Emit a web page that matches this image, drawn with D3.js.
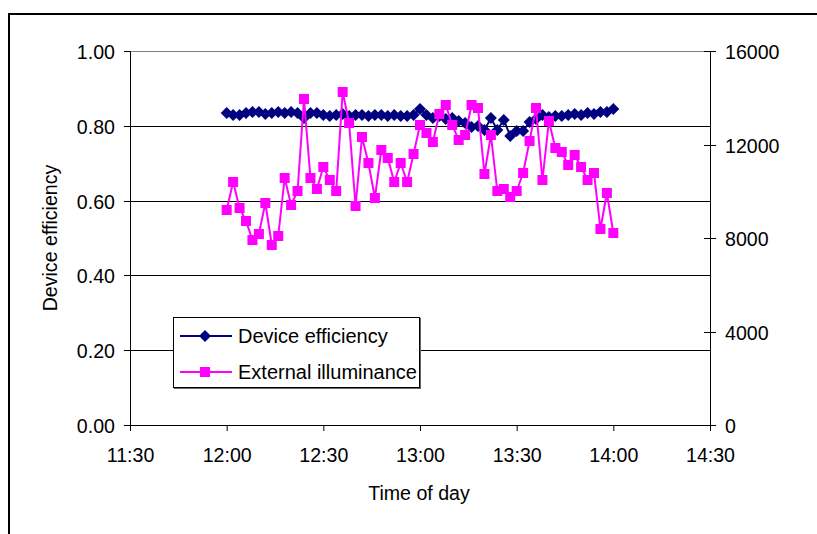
<!DOCTYPE html>
<html><head><meta charset="utf-8">
<script src="https://cdn.jsdelivr.net/npm/d3@7"></script>
<style>
html,body{margin:0;padding:0;background:#fff;}
svg text{font-family:"Liberation Sans",Arial,sans-serif;fill:#000;}
</style></head>
<body><svg id="c" width="817" height="534"></svg>
<script>
// minutes after 12:00, every 2 minutes
const minutes = d3.range(0, 121, 2);
const efficiency = [0.835,0.830,0.828,0.833,0.838,0.836,0.831,0.834,0.837,0.833,0.838,0.835,0.820,0.835,0.834,0.828,0.825,0.830,0.832,0.826,
  0.830,0.828,0.826,0.830,0.829,0.826,0.830,0.827,0.826,0.830,0.845,0.828,0.820,0.826,0.818,0.822,0.813,0.808,0.796,0.800,
  0.790,0.822,0.790,0.815,0.772,0.786,0.785,0.810,0.818,0.828,0.824,0.826,0.827,0.829,0.831,0.829,0.834,0.832,0.838,0.836,0.846];
const illuminance = [9200,10400,9270,8710,7910,8170,9510,7680,8070,10550,9430,10000,13950,10550,10080,11040,10480,10000,14260,12940,
  9360,12340,11200,9690,11770,11440,10410,11200,10410,11610,12830,12510,12090,13310,13710,12820,12180,12420,13710,13550,
  10730,12410,10000,10080,9770,10000,10800,12170,13550,10480,13000,11850,11680,11120,11530,11040,10480,10800,8390,9910,8230];
const xTicks = [690,720,750,780,810,840,870];
const xTickLabels = ["11:30","12:00","12:30","13:00","13:30","14:00","14:30"];
const yLeftTicks = [0,0.2,0.4,0.6,0.8,1.0];
const yRightTicks = [0,4000,8000,12000,16000];
const seriesNames = ["Device efficiency","External illuminance"];
const xTitle = "Time of day", yTitle = "Device efficiency";

const svg = d3.select("#c");
const L=130, R=710, T=51, B=425;
const x = d3.scaleLinear().domain([690,870]).range([L,R]);
const yL = d3.scaleLinear().domain([0,1]).rangeRound([B,T]);
const yR = d3.scaleLinear().domain([0,16000]).rangeRound([B,T]);
const fs = "19.6px";

// outer frame
svg.append("rect").attr("x",9).attr("y",14).attr("width",900).attr("height",700)
  .attr("fill","none").attr("stroke","#000").attr("stroke-width",2);

// plot area border (grey)
svg.append("rect").attr("x",L+0.5).attr("y",T+0.5).attr("width",R-L).attr("height",B-T)
  .attr("fill","none").attr("stroke","#808080").attr("stroke-width",1);

// gridlines
svg.append("g").selectAll("line").data(yLeftTicks.filter(d=>d>0&&d<1)).join("line")
  .attr("x1",L).attr("x2",R).attr("y1",d=>yL(d)+0.5).attr("y2",d=>yL(d)+0.5)
  .attr("stroke","#000").attr("stroke-width",1);

// left axis
const gl = svg.append("g").attr("transform",`translate(${L},0)`)
  .call(d3.axisLeft(yL).tickValues(yLeftTicks).tickFormat(d3.format(".2f")).tickSize(6).tickPadding(9));
// right axis
const gr = svg.append("g").attr("transform",`translate(${R},0)`)
  .call(d3.axisRight(yR).tickValues(yRightTicks).tickFormat(d3.format("d")).tickSize(6).tickPadding(9));
gr.selectAll(".tick").append("line").attr("x2",-6).attr("stroke","#000");
// bottom axis
const gb = svg.append("g").attr("transform",`translate(0,${B})`)
  .call(d3.axisBottom(x).tickValues(xTicks).tickFormat((d,i)=>xTickLabels[i]).tickSize(6).tickPadding(17));
[gl,gr,gb].forEach(g=>{
  g.selectAll("text").style("font-size",fs).attr("fill","#000");
  g.selectAll("line,path").attr("stroke","#000");
  g.select(".domain").attr("stroke","#000");
});
gl.selectAll("text").attr("dy","0.36em");
gr.selectAll("text").attr("dy","0.36em");

const xp = m => x(720+m);
// series 1
const lineE = d3.line().x((d,i)=>xp(minutes[i])).y(d=>yL(d));
svg.append("path").datum(efficiency).attr("d",lineE).attr("fill","none").attr("stroke","#000080").attr("stroke-width",2);
const diamond = "M0,-6L6,0L0,6L-6,0Z";
svg.append("g").selectAll("path").data(efficiency).join("path")
  .attr("transform",(d,i)=>`translate(${xp(minutes[i])},${yL(d)})`).attr("d",diamond).attr("fill","#000080");
// series 2
const lineI = d3.line().x((d,i)=>xp(minutes[i])).y(d=>yR(d));
svg.append("path").datum(illuminance).attr("d",lineI).attr("fill","none").attr("stroke","#FF00FF").attr("stroke-width",2);
svg.append("g").selectAll("rect").data(illuminance).join("rect")
  .attr("x",(d,i)=>xp(minutes[i])-5).attr("y",d=>yR(d)-5).attr("width",10).attr("height",10).attr("fill","#FF00FF");

// titles
svg.append("text").attr("x",419).attr("y",500).attr("text-anchor","middle").style("font-size",fs).text(xTitle);
svg.append("text").attr("transform",`translate(57,238) rotate(-90)`).attr("text-anchor","middle").style("font-size",fs).text(yTitle);

// legend
const lg = svg.append("g");
lg.append("rect").attr("x",174.5).attr("y",318.5).attr("width",246).attr("height",70).attr("fill","none").attr("stroke","#666").attr("stroke-width",1);
lg.append("rect").attr("x",173.5).attr("y",317.5).attr("width",246).attr("height",70).attr("fill","#fff").attr("stroke","#000").attr("stroke-width",1);
const colors = ["#000080","#FF00FF"];
const ly = [336,372];
seriesNames.forEach((n,i)=>{
  lg.append("line").attr("x1",180).attr("x2",232).attr("y1",ly[i]).attr("y2",ly[i]).attr("stroke",colors[i]).attr("stroke-width",2);
  if(i===0) lg.append("path").attr("transform",`translate(205,${ly[i]})`).attr("d",diamond).attr("fill",colors[i]);
  else lg.append("rect").attr("x",200).attr("y",ly[i]-5).attr("width",10).attr("height",10).attr("fill",colors[i]);
  lg.append("text").attr("x",238).attr("y",ly[i]+6.5).style("font-size","20px").text(n);
});
</script></body></html>
